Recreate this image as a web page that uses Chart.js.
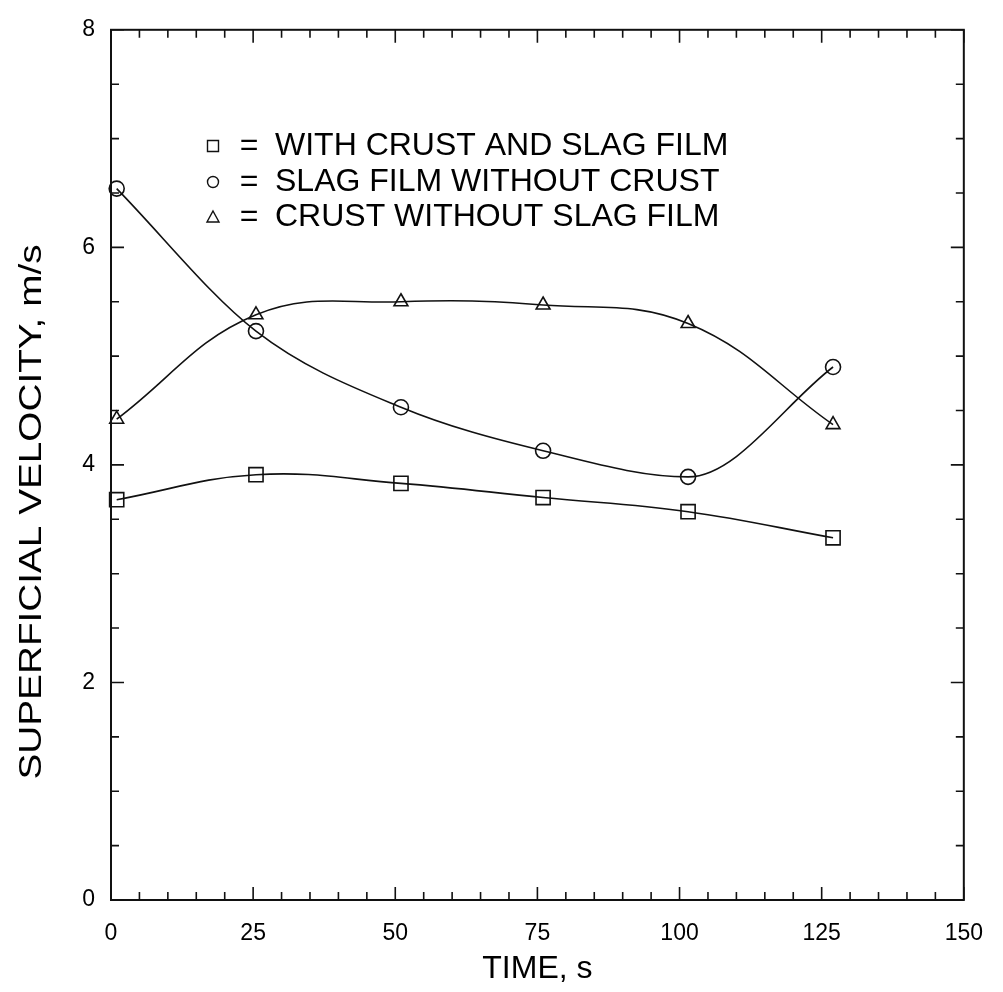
<!DOCTYPE html>
<html>
<head>
<meta charset="utf-8">
<script src="https://cdn.jsdelivr.net/npm/chart.js@4/dist/chart.umd.min.js"></script>
<style>
  body { margin: 0; background: #fff; }
  #wrap { width: 1003px; height: 992px; }
</style>
</head>
<body>
<div id="wrap"><canvas id="chart" width="1003" height="992"></canvas></div>
<script>
// time (s) and superficial velocity (m/s) for the three runs
var times = [1, 25.5, 51, 76, 101.5, 127];
var crustAndSlag = [3.68, 3.91, 3.83, 3.70, 3.57, 3.33];
var slagNoCrust = [6.54, 5.23, 4.53, 4.13, 3.89, 4.90];
var crustNoSlag = [4.42, 5.38, 5.50, 5.47, 5.30, 4.37];

var xTicks = [0, 25, 50, 75, 100, 125, 150];
var yTicks = [0, 2, 4, 6, 8];
var seriesNames = ['WITH CRUST AND SLAG FILM', 'SLAG FILM WITHOUT CRUST', 'CRUST WITHOUT SLAG FILM'];

var FONT = '"Liberation Sans", Arial, sans-serif';
var INK = '#111';

function points(ys) {
  return times.map(function (t, i) { return { x: t, y: ys[i] }; });
}

function series(label, ys, style, r, mode) {
  return {
    label: label,
    data: points(ys),
    showLine: true,
    tension: 0.4,
    cubicInterpolationMode: mode || 'default',
    borderColor: INK,
    borderWidth: 1.6,
    pointStyle: style,
    pointRadius: r,
    pointHoverRadius: r,
    pointBorderColor: INK,
    pointBorderWidth: 1.6,
    pointBackgroundColor: 'rgba(0,0,0,0)',
    clip: false
  };
}

// text squeezed or stretched along its baseline to a given length
function fitText(ctx, text, x, y, width) {
  var w = ctx.measureText(text).width;
  ctx.save();
  ctx.translate(x, y);
  ctx.scale(width / w, 1);
  ctx.fillText(text, 0, 0);
  ctx.restore();
}

// box round the plot with inward ticks on all four sides
var frame = {
  id: 'frame',
  afterDraw: function (chart) {
    var ctx = chart.ctx, a = chart.chartArea;
    var xs = chart.scales.x, ys = chart.scales.y;
    ctx.save();
    ctx.strokeStyle = INK;
    ctx.lineWidth = 2;
    ctx.strokeRect(a.left, a.top, a.right - a.left, a.bottom - a.top);
    ctx.lineWidth = 1.6;
    ctx.beginPath();
    for (var v = 0; v <= 150; v += 5) {
      var px = xs.getPixelForValue(v);
      var len = v % 25 === 0 ? 13 : 8;
      ctx.moveTo(px, a.bottom); ctx.lineTo(px, a.bottom - len);
      ctx.moveTo(px, a.top); ctx.lineTo(px, a.top + len);
    }
    for (var w = 0; w <= 8; w += 0.5) {
      var py = ys.getPixelForValue(w);
      var len2 = w % 2 === 0 ? 13 : 8;
      ctx.moveTo(a.left, py); ctx.lineTo(a.left + len2, py);
      ctx.moveTo(a.right, py); ctx.lineTo(a.right - len2, py);
    }
    ctx.stroke();

    // vertical axis title
    ctx.fillStyle = '#000';
    ctx.font = '32px ' + FONT;
    ctx.textAlign = 'center';
    ctx.textBaseline = 'alphabetic';
    ctx.translate(41, 512);
    ctx.rotate(-Math.PI / 2);
    fitText(ctx, 'SUPERFICIAL VELOCITY, m/s', 0, 0, 535);
    ctx.restore();
  }
};

// symbol key written inside the plot
var key = {
  id: 'key',
  afterDraw: function (chart) {
    var ctx = chart.ctx;
    var styles = ['rect', 'circle', 'triangle'];
    var rows = [146, 182, 217];
    ctx.save();
    ctx.strokeStyle = INK;
    ctx.fillStyle = '#000';
    ctx.lineWidth = 1.4;
    ctx.font = '32px ' + FONT;
    ctx.textBaseline = 'middle';
    rows.forEach(function (y, i) {
      var x = 213;
      ctx.beginPath();
      if (styles[i] === 'rect') {
        ctx.rect(x - 5.5, y - 5.5, 11, 11);
      } else if (styles[i] === 'circle') {
        ctx.arc(x, y, 5.5, 0, Math.PI * 2);
      } else {
        ctx.moveTo(x, y - 6);
        ctx.lineTo(x + 6, y + 5);
        ctx.lineTo(x - 6, y + 5);
        ctx.closePath();
      }
      ctx.stroke();
      ctx.textAlign = 'center';
      ctx.fillText('=', 249, y);
      ctx.textAlign = 'left';
      ctx.fillText(seriesNames[i], 275, y);
    });
    ctx.restore();
  }
};

new Chart(document.getElementById('chart'), {
  type: 'scatter',
  data: {
    datasets: [
      series(seriesNames[0], crustAndSlag, 'rect', 10),
      series(seriesNames[1], slagNoCrust, 'circle', 7.5, 'monotone'),
      series(seriesNames[2], crustNoSlag, 'triangle', 8)
    ]
  },
  options: {
    responsive: false,
    animation: false,
    layout: { padding: { top: 17, right: 25, bottom: 0, left: 0 } },
    plugins: {
      legend: { display: false },
      tooltip: { enabled: false }
    },
    scales: {
      x: {
        type: 'linear',
        min: 0,
        max: 150,
        afterFit: function (s) { s.height = 92; },
        afterBuildTicks: function (s) { s.ticks = xTicks.map(function (v) { return { value: v }; }); },
        grid: { display: false, drawTicks: false },
        border: { display: false },
        ticks: { color: '#000', font: { family: FONT, size: 23 }, padding: 20, maxRotation: 0 },
        title: { display: true, text: 'TIME, s', color: '#000', font: { family: FONT, size: 32 }, padding: { top: 0, bottom: 4 } }
      },
      y: {
        type: 'linear',
        min: 0,
        max: 8,
        afterFit: function (s) { s.width = 111; },
        afterBuildTicks: function (s) { s.ticks = yTicks.map(function (v) { return { value: v }; }); },
        grid: { display: false, drawTicks: false },
        border: { display: false },
        ticks: { color: '#000', font: { family: FONT, size: 23 }, padding: 16 }
      }
    }
  },
  plugins: [frame, key]
});
</script>
</body>
</html>
